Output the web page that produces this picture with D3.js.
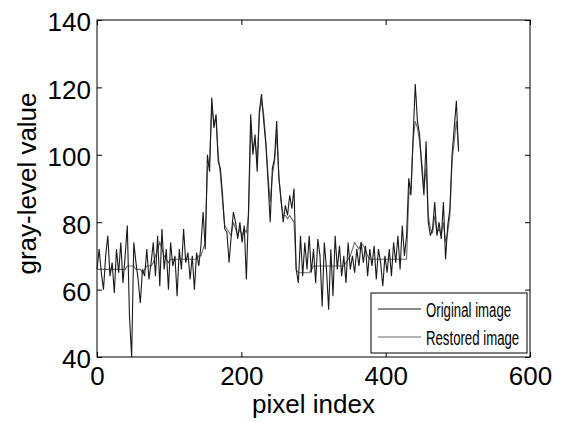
<!DOCTYPE html>
<html>
<head>
<meta charset="utf-8">
<script src="https://cdn.jsdelivr.net/npm/d3@7"></script>
<style>
  html, body { margin: 0; padding: 0; background: #fff; }
  svg { display: block; }
  text { font-family: "Liberation Sans", Arial, Helvetica, sans-serif; }
</style>
</head>
<body>
<svg id="chart" width="563" height="423"></svg>
<script>
// ---- data (pixel index step 3) ----
const xTicks = [0, 200, 400, 600];
const yTicks = [40, 60, 80, 100, 120, 140];
const seriesNames = ["Original image", "Restored image"];
const pixelStep = 3;

const originalValues = [
  66, 72, 65, 60, 70, 76, 64, 68, 59, 72, 65, 74, 62, 70, 79, 52, 40, 74, 68, 63, 56,
  66, 64, 72, 63, 68, 74, 64, 76, 61, 78, 66, 72, 60, 74, 67, 70, 58, 72, 66, 78, 68,
  71, 63, 70, 60, 71, 67, 73, 83, 72, 100, 95, 117, 108, 112, 98, 96, 88, 78, 77, 68,
  76, 83, 80, 75, 80, 74, 79, 63, 84, 112, 100, 106, 95, 113, 118, 110, 103, 92, 80, 96,
  99, 110, 93, 87, 80, 85, 82, 88, 84, 90, 66, 62, 76, 64, 74, 66, 76, 65, 72, 62,
  75, 70, 55, 74, 66, 54, 72, 58, 76, 66, 73, 64, 70, 62, 74, 66, 70, 65, 72, 67,
  74, 68, 73, 64, 72, 67, 73, 63, 72, 68, 61, 70, 65, 72, 64, 74, 68, 76, 66, 79,
  70, 76, 93, 88, 105, 121, 110, 106, 96, 88, 104, 80, 76, 78, 86, 76, 80, 75, 86, 69,
  79, 84, 100, 108, 116, 101
];

const restoredValues = [
  66, 66, 66, 66, 66, 66, 66, 66, 66, 66, 66, 66, 66, 66, 67, 67, 67, 67, 66, 66, 66,
  65, 66, 67, 67, 67, 68, 70, 72, 74, 72, 70, 69, 68, 69, 69, 69, 69, 69, 69, 69, 69,
  69, 69, 69, 69, 69, 70, 70, 72, 74, 96, 98, 114, 110, 110, 100, 94, 86, 79, 78, 77,
  76, 80, 78, 76, 78, 76, 78, 77, 82, 108, 102, 104, 98, 112, 116, 112, 104, 94, 86, 94,
  98, 106, 94, 86, 82, 82, 81, 82, 81, 80, 66, 65, 65, 65, 65, 65, 65, 66, 67, 67,
  67, 67, 67, 67, 67, 67, 67, 67, 67, 67, 67, 67, 67, 68, 69, 70, 72, 74, 73, 72,
  74, 73, 72, 70, 69, 69, 69, 69, 69, 69, 69, 69, 69, 69, 69, 69, 69, 69, 69, 69,
  69, 69, 88, 90, 104, 110, 108, 104, 98, 90, 96, 82, 78, 77, 82, 77, 78, 76, 80, 74,
  77, 82, 98, 104, 110, 102
];

// ---- layout ----
const svg = d3.select("#chart");
const margin = { left: 97, right: 33, top: 20, bottom: 66 };
const W = 563, H = 423;
const x0 = margin.left, x1 = W - margin.right, y0 = margin.top, y1 = H - margin.bottom;

const x = d3.scaleLinear().domain([0, 600]).range([x0, x1]);
const y = d3.scaleLinear().domain([40, 140]).range([y1, y0]);

const tickLen = 5;
const fontSize = "26px";

// box
svg.append("rect")
  .attr("x", x0).attr("y", y0)
  .attr("width", x1 - x0).attr("height", y1 - y0)
  .attr("fill", "none").attr("stroke", "#000").attr("stroke-width", 1);

// axes with inward ticks
const axBottom = svg.append("g").attr("transform", `translate(0,${y1})`)
  .call(d3.axisBottom(x).tickValues(xTicks).tickSizeInner(-tickLen).tickSizeOuter(0).tickPadding(10));
const axTop = svg.append("g").attr("transform", `translate(0,${y0})`)
  .call(d3.axisTop(x).tickValues(xTicks).tickSizeInner(-tickLen).tickSizeOuter(0).tickFormat(""));
const axLeft = svg.append("g").attr("transform", `translate(${x0},0)`)
  .call(d3.axisLeft(y).tickValues(yTicks).tickSizeInner(-tickLen).tickSizeOuter(0).tickPadding(6));
const axRight = svg.append("g").attr("transform", `translate(${x1},0)`)
  .call(d3.axisRight(y).tickValues(yTicks).tickSizeInner(-tickLen).tickSizeOuter(0).tickFormat(""));

[axBottom, axTop, axLeft, axRight].forEach(a => {
  a.select(".domain").remove();
  a.selectAll("line").attr("stroke", "#000");
  a.selectAll("text")
    .attr("fill", "#000")
    .style("font-family", '"Liberation Sans", Arial, sans-serif')
    .style("font-size", fontSize);
});
axLeft.selectAll("text").attr("dy", "0.42em");
axBottom.selectAll("text").attr("dy", "0.68em");

// axis labels
svg.append("text")
  .attr("x", (x0 + x1) / 2).attr("y", 413)
  .attr("text-anchor", "middle")
  .style("font-size", fontSize)
  .text("pixel index");

svg.append("text")
  .attr("transform", `translate(36,${(y0 + y1) / 2 - 5}) rotate(-90)`)
  .attr("text-anchor", "middle")
  .style("font-size", fontSize)
  .text("gray-level value");

// lines
const lineGen = d3.line()
  .x((d, i) => x(i * pixelStep))
  .y(d => y(d));

const g = svg.append("g");
g.append("path")
  .datum(restoredValues)
  .attr("d", lineGen)
  .attr("fill", "none")
  .attr("stroke", "#6a6a6a")
  .attr("stroke-width", 1.1);
g.append("path")
  .datum(originalValues)
  .attr("d", lineGen)
  .attr("fill", "none")
  .attr("stroke", "#1a1a1a")
  .attr("stroke-width", 1.1);

// legend
const lg = svg.append("g");
lg.append("rect")
  .attr("x", 371).attr("y", 293)
  .attr("width", 156).attr("height", 60)
  .attr("fill", "#fff").attr("stroke", "#000").attr("stroke-width", 1);

const legendColors = ["#1a1a1a", "#6a6a6a"];
seriesNames.forEach((name, i) => {
  const yy = 309 + i * 28;
  lg.append("line")
    .attr("x1", 378).attr("x2", 421)
    .attr("y1", yy).attr("y2", yy)
    .attr("stroke", legendColors[i]).attr("stroke-width", 1);
  lg.append("text")
    .attr("transform", `translate(426,${yy + 8}) scale(0.66,1)`)
    .style("font-family", '"Liberation Sans", Arial, sans-serif')
    .style("font-size", "20px")
    .attr("fill", "#000")
    .text(name);
});
</script>
</body>
</html>
